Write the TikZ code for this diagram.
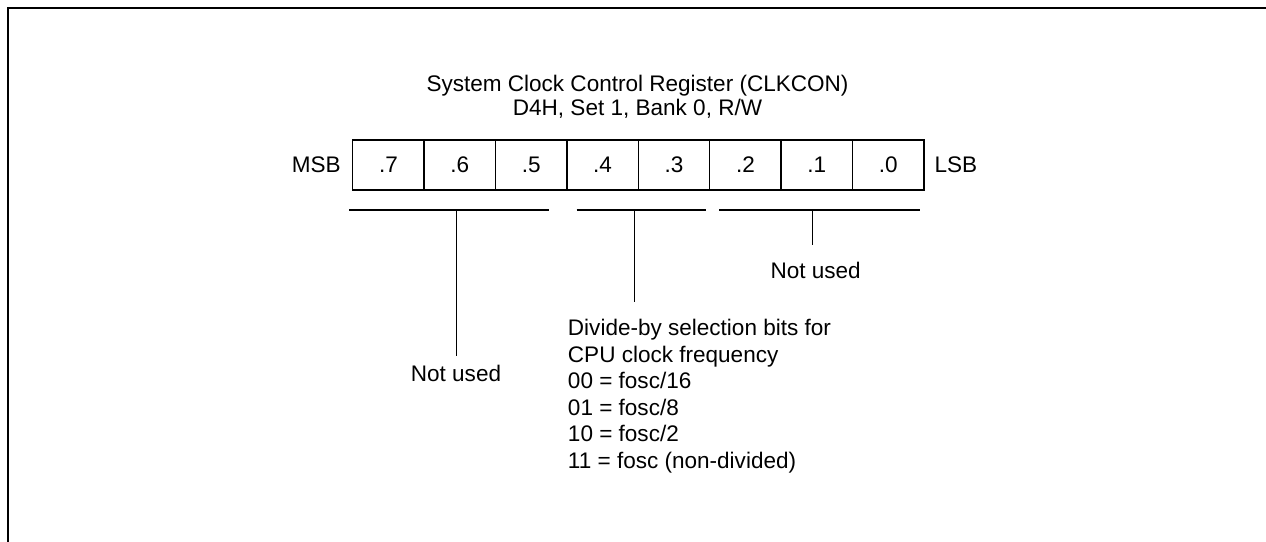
\documentclass[tikz,border=0pt]{standalone}
\usepackage{fontspec}
\setmainfont{Liberation Sans}
\usetikzlibrary{positioning}

\begin{document}
\begin{tikzpicture}[x=0.75pt, y=-0.75pt, line width=1pt,
  every node/.style={font=\fontsize{16.9}{19.9}\selectfont, inner sep=0pt},
  cell/.style={draw, line width=1pt, minimum width=53.55pt, minimum height=37.5pt}]
  \useasboundingbox (0,0) rectangle (1266,542);

  % Frame (top and left edges only)
  \draw[line width=2pt] (8,542) -- (8,8) -- (1266,8);

  % Title
  \node[anchor=north, align=center, font=\fontsize{16.9}{18.4}\selectfont] (title) at (637.5,74.1)
    {System Clock Control Register (CLKCON)\\D4H, Set 1, Bank 0, R/W};

  % Register cells, bit 7 on the left
  \foreach \b [count=\k from 0] in {7,...,0} {
    \node[cell] (b\b) at ({388.4+71.4*\k},165) {.\b};
  }
  \node[left=8pt of b7] (msb) {MSB};
  \node[right=7pt of b0] (lsb) {LSB};

  % Bit groups
  \coordinate (gA1) at (349,210);   \coordinate (gA2) at (549.3,210);
  \coordinate (gAm) at (456.7,210); \coordinate (gAe) at (456.7,356);
  \coordinate (gB1) at (576.7,210); \coordinate (gB2) at (706,210);
  \coordinate (gBm) at (634.3,210); \coordinate (gBe) at (634.3,301.7);
  \coordinate (gC1) at (719.3,210); \coordinate (gC2) at (920,210);
  \coordinate (gCm) at (812.7,210); \coordinate (gCe) at (812.7,245);
  \draw (gA1) -- (gA2); \draw (gAm) -- (gAe);
  \draw (gB1) -- (gB2); \draw (gBm) -- (gBe);
  \draw (gC1) -- (gC2); \draw (gCm) -- (gCe);

  % Descriptions
  \node[anchor=base] (unusedhi) at (456,381.7) {Not used};
  \node[anchor=base] (unusedlo) at (815.7,278.3) {Not used};
  \node[anchor=north west, align=left] (divsel) at (567.3,318.6)
    {Divide-by selection bits for\\CPU clock frequency\\00 = fosc/16\\01 = fosc/8\\10 = fosc/2\\11 = fosc (non-divided)};
\end{tikzpicture}
\end{document}
